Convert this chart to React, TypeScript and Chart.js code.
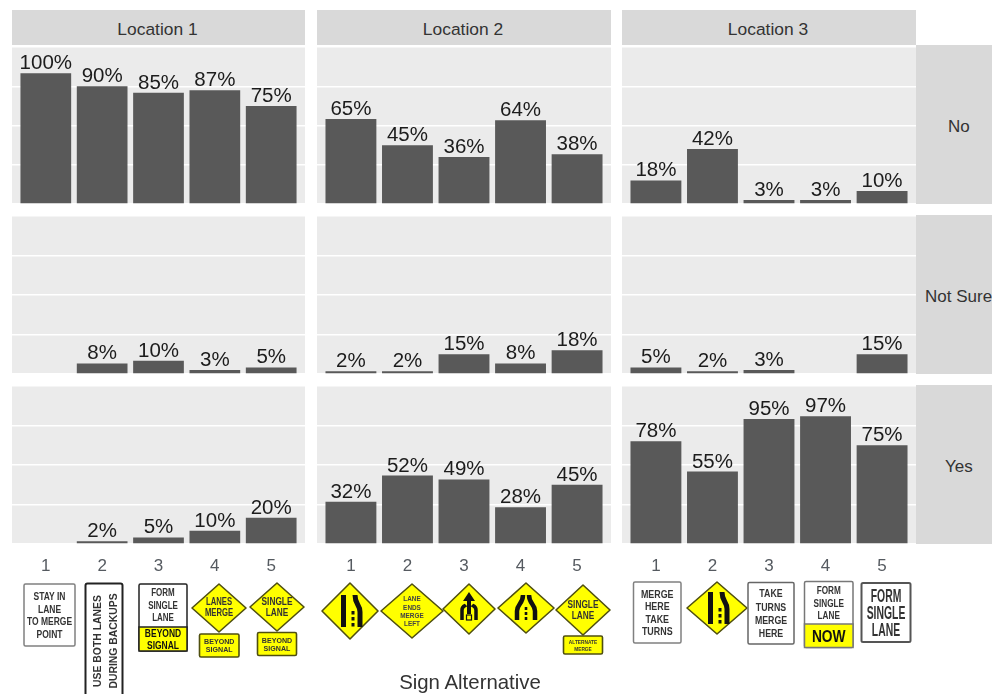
import React, { useEffect, useRef } from "react";
import { Chart, registerables } from "chart.js";

Chart.register(...registerables);

const categories = [1, 2, 3, 4, 5];
const locations = ["Location 1", "Location 2", "Location 3"];
const responses = ["No", "Not Sure", "Yes"];
const axisTitle = "Sign Alternative";

const noLoc1 = [100, 90, 85, 87, 75];
const noLoc2 = [65, 45, 36, 64, 38];
const noLoc3 = [18, 42, 3, 3, 10];
const notSureLoc1 = [null, 8, 10, 3, 5];
const notSureLoc2 = [2, 2, 15, 8, 18];
const notSureLoc3 = [5, 2, 3, null, 15];
const yesLoc1 = [null, 2, 5, 10, 20];
const yesLoc2 = [32, 52, 49, 28, 45];
const yesLoc3 = [78, 55, 95, 97, 75];

const panelValues = [
  [noLoc1, noLoc2, noLoc3],
  [notSureLoc1, notSureLoc2, notSureLoc3],
  [yesLoc1, yesLoc2, yesLoc3],
];

const colLeft = [12, 317, 622];
const colWidth = [293, 294, 294];
const rowTop = [47, 216, 386];
const rowHeight = [157, 158, 158];
const axisBand = 30;
const FONT = '"Liberation Sans", Arial, sans-serif';

const panelPlugin = {
  id: "panelBits",
  beforeDraw(chart: any) {
    const { ctx, chartArea: a } = chart;
    ctx.save();
    ctx.fillStyle = "#ebebeb";
    ctx.fillRect(a.left, a.top, a.right - a.left, a.bottom - a.top);
    ctx.restore();
  },
  afterDatasetsDraw(chart: any) {
    const { ctx } = chart;
    const meta = chart.getDatasetMeta(0);
    const vals = chart.data.datasets[0].data;
    ctx.save();
    ctx.font = `20.5px ${FONT}`;
    ctx.fillStyle = "#1c1c1c";
    ctx.textAlign = "center";
    ctx.textBaseline = "alphabetic";
    meta.data.forEach((el: any, i: number) => {
      const v = vals[i].y;
      if (v === null) return;
      ctx.fillText(`${v}%`, el.x, el.y - 4);
    });
    ctx.restore();
  },
};

function Panel({ values, left, top, width, height, showTicks }: any) {
  const ref = useRef<HTMLCanvasElement>(null);
  const fullH = height + (showTicks ? axisBand : 0);
  useEffect(() => {
    const chart = new Chart(ref.current as HTMLCanvasElement, {
      type: "bar",
      data: {
        datasets: [
          {
            data: categories.map((c, i) => ({ x: c, y: values[i] })),
            backgroundColor: "#595959",
            barPercentage: 0.9,
            categoryPercentage: 1,
          },
        ],
      },
      options: {
        animation: false,
        responsive: false,
        events: [],
        layout: { padding: 0 },
        plugins: { legend: { display: false }, tooltip: { enabled: false } },
        scales: {
          x: {
            type: "linear",
            min: 0.4,
            max: 5.6,
            offset: false,
            grid: { display: false, drawTicks: false },
            border: { display: false },
            afterBuildTicks: (s: any) => {
              s.ticks = categories.map((value) => ({ value }));
            },
            afterFit: (s: any) => {
              s.height = showTicks ? axisBand : 0;
            },
            ticks: {
              display: showTicks,
              autoSkip: false,
              maxRotation: 0,
              padding: 12,
              color: "#555a60",
              font: { family: FONT, size: 17 },
              callback: (v: any) => String(v),
            },
          },
          y: {
            min: 0,
            max: 120,
            afterFit: (s: any) => {
              s.width = 0;
            },
            grid: { color: "#ffffff", lineWidth: 1.5, drawTicks: false },
            border: { display: false },
            ticks: { display: false, stepSize: 30 },
          },
        },
      },
      plugins: [panelPlugin],
    } as any);
    return () => chart.destroy();
  }, []);
  return (
    <canvas
      ref={ref}
      width={width}
      height={fullH}
      style={{ position: "absolute", left, top, width, height: fullH, display: "block" }}
    />
  );
}

const YEL = "#ffff00";
const EDGE = "#4f4f10";

function Lines({ cx, cy, lines, size, step, k = 1.3, fill = "#333333", weight = 700 }: any) {
  const start = cy - ((lines.length - 1) * step) / 2;
  return (
    <>
      {lines.map((t: string, i: number) => (
        <text
          key={i}
          transform={`translate(${cx} ${start + i * step}) scale(1 ${k})`}
          fontSize={size}
          fontWeight={weight}
          fontFamily={FONT}
          textAnchor="middle"
          dominantBaseline="central"
          fill={fill}
        >
          {t}
        </text>
      ))}
    </>
  );
}

function RectSign({ x, y, w, h, lines, size = 9, step = 12.6, k = 1.3, edge = "#808080", sw = 1.5, split, bottomLines, bottomSize = 9, bottomStep = 11, bottomK = 1.3 }: any) {
  const topEnd = split ?? y + h;
  return (
    <g>
      <rect x={x} y={y} width={w} height={h} rx={1.5} fill="#fff" stroke={edge} strokeWidth={sw} />
      {split !== undefined && (
        <rect x={x} y={split} width={w} height={y + h - split} fill={YEL} stroke={edge} strokeWidth={sw} />
      )}
      <Lines cx={x + w / 2} cy={(y + topEnd) / 2} lines={lines} size={size} step={step} k={k} />
      {split !== undefined && (
        <Lines cx={x + w / 2} cy={(split + y + h) / 2} lines={bottomLines} size={bottomSize} step={bottomStep} k={bottomK} fill="#111" />
      )}
    </g>
  );
}

function Diamond({ cx, cy, hw, hh, children }: any) {
  return (
    <g transform={`translate(${cx} ${cy})`}>
      <polygon points={`0,${-hh} ${hw},0 0,${hh} ${-hw},0`} fill={YEL} stroke={EDGE} strokeWidth={1.6} strokeLinejoin="round" />
      {children}
    </g>
  );
}

function Plaque({ x, y, w, h, lines, size = 7.1, step = 8, k = 1.1 }: any) {
  return (
    <g>
      <rect x={x} y={y} width={w} height={h} rx={1.5} fill={YEL} stroke={EDGE} strokeWidth={1.6} />
      <Lines cx={x + w / 2} cy={y + h / 2} lines={lines} size={size} step={step} k={k} fill="#333" />
    </g>
  );
}

function MergeGlyph() {
  return (
    <g fill="#111" stroke="none">
      <rect x={-9} y={-16} width={5} height={32} />
      <path d="M5,-16 C5,-6 10,-7 10,1 V16" fill="none" stroke="#111" strokeWidth={5} />
      <rect x={1.5} y={0} width={3} height={3.5} />
      <rect x={1.5} y={6} width={3} height={3.5} />
      <rect x={1.5} y={12} width={3} height={3.5} />
    </g>
  );
}

function ArrowGlyph() {
  return (
    <g>
      <path d="M0,-17 L-6,-8 H-2 V5 H2 V-8 H6 Z" fill="#111" />
      <path d="M-7,11 V1 C-7,-3 -4,-3 -3,-4" fill="none" stroke="#111" strokeWidth={3.5} />
      <path d="M7,11 V1 C7,-3 4,-3 3,-4" fill="none" stroke="#111" strokeWidth={3.5} />
      <rect x={-2.5} y={6} width={5} height={5} fill="none" stroke="#111" strokeWidth={1.2} />
    </g>
  );
}

function SplitGlyph() {
  return (
    <g>
      <path d="M-3,-13 C-3,-4 -9,-4 -9,3 V12" fill="none" stroke="#111" strokeWidth={4.5} />
      <path d="M3,-13 C3,-4 9,-4 9,3 V12" fill="none" stroke="#111" strokeWidth={4.5} />
      <rect x={-1.3} y={-1} width={2.6} height={3} fill="#111" />
      <rect x={-1.3} y={4} width={2.6} height={3} fill="#111" />
      <rect x={-1.3} y={9} width={2.6} height={3} fill="#111" />
    </g>
  );
}

function Signs() {
  return (
    <svg
      width={992}
      height={144}
      viewBox="0 550 992 144"
      style={{ position: "absolute", left: 0, top: 550, filter: "blur(0.4px)" }}
    >
      <RectSign x={24} y={584} w={51} h={62} lines={["STAY IN", "LANE", "TO MERGE", "POINT"]} size={8.5} />
      <g>
        <rect x={85.5} y={583.5} width={37} height={120} rx={2} fill="#fff" stroke="#222" strokeWidth={2} />
        <g transform="translate(105 641) rotate(-90)">
          <Lines cx={0} cy={0} lines={["USE BOTH LANES", "DURING BACKUPS"]} size={10.4} step={16} k={1.1} />
        </g>
      </g>
      <RectSign x={139} y={584} w={48} h={67} split={627} edge="#222" lines={["FORM", "SINGLE", "LANE"]} size={8} step={12.6} bottomLines={["BEYOND", "SIGNAL"]} bottomSize={8.5} bottomStep={11.5} />
      <Diamond cx={219} cy={608} hw={27} hh={24}>
        <Lines cx={0} cy={-1} lines={["LANES", "MERGE"]} size={7.7} step={10.5} k={1.35} />
      </Diamond>
      <Plaque x={199.5} y={634} w={39.5} h={23} lines={["BEYOND", "SIGNAL"]} />
      <Diamond cx={277} cy={607} hw={27} hh={24}>
        <Lines cx={0} cy={-1} lines={["SINGLE", "LANE"]} size={8.3} step={11} k={1.4} />
      </Diamond>
      <Plaque x={257.5} y={632.5} w={39} h={23} lines={["BEYOND", "SIGNAL"]} />

      <Diamond cx={350} cy={611} hw={28} hh={28}>
        <MergeGlyph />
      </Diamond>
      <Diamond cx={412} cy={611} hw={31} hh={27}>
        <Lines cx={0} cy={0} lines={["LANE", "ENDS", "MERGE", "LEFT"]} size={6.4} step={8.4} k={1.25} fill="#444" />
      </Diamond>
      <Diamond cx={469} cy={609} hw={26} hh={25}>
        <ArrowGlyph />
      </Diamond>
      <Diamond cx={526} cy={608} hw={28} hh={25}>
        <SplitGlyph />
      </Diamond>
      <Diamond cx={583} cy={610} hw={27} hh={25}>
        <Lines cx={0} cy={-1} lines={["SINGLE", "LANE"]} size={8.3} step={11} k={1.4} />
      </Diamond>
      <Plaque x={563.5} y={636} w={39} h={18} lines={["ALTERNATE", "MERGE"]} size={4.8} step={7} k={1.1} />

      <RectSign x={633.5} y={582} w={47.5} h={61} lines={["MERGE", "HERE", "TAKE", "TURNS"]} size={8.9} />
      <Diamond cx={717} cy={608} hw={30} hh={26}>
        <MergeGlyph />
      </Diamond>
      <RectSign x={748} y={582.5} w={46} h={61.5} edge="#666" lines={["TAKE", "TURNS", "MERGE", "HERE"]} size={8.8} step={13.3} />
      <RectSign x={804.5} y={581.5} w={48.5} h={66} split={624} edge="#777" lines={["FORM", "SINGLE", "LANE"]} size={8.2} step={12.6} bottomLines={["NOW"]} bottomSize={13.8} bottomK={1.25} />
      <RectSign x={861.5} y={583} w={49} h={59} edge="#555" sw={2} lines={["FORM", "SINGLE", "LANE"]} size={10.4} step={17} k={1.8} />
    </svg>
  );
}

const stripBase: any = {
  position: "absolute",
  background: "#d9d9d9",
  color: "#333333",
  fontFamily: FONT,
  fontSize: 17.4,
  display: "flex",
  alignItems: "center",
  justifyContent: "center",
  whiteSpace: "nowrap",
  overflow: "hidden",
  boxSizing: "border-box",
  paddingTop: 4,
};

export default function App() {
  return (
    <div
      style={{
        position: "fixed",
        left: 0,
        top: 0,
        width: 992,
        height: 694,
        background: "#ffffff",
        overflow: "hidden",
      }}
    >
      {locations.map((name, c) => (
        <div
          key={name}
          style={{ ...stripBase, left: colLeft[c], top: 10, width: colWidth[c], height: 35, paddingRight: 2 }}
        >
          {name}
        </div>
      ))}
      {responses.map((name, r) => (
        <div
          key={name}
          style={{
            ...stripBase,
            fontSize: 17,
            left: 916,
            top: r === 0 ? 45 : rowTop[r] - 1,
            width: 76,
            height: r === 0 ? 159 : rowHeight[r] + 1,
            justifyContent: "flex-start",
            paddingLeft: name === "Not Sure" ? 9 : name === "No" ? 32 : 29,
          }}
        >
          {name}
        </div>
      ))}
      {panelValues.map((row, r) =>
        row.map((values, c) => (
          <Panel
            key={`${r}-${c}`}
            values={values}
            left={colLeft[c]}
            top={rowTop[r]}
            width={colWidth[c]}
            height={rowHeight[r]}
            showTicks={r === 2}
          />
        ))
      )}
      <Signs />
      <div
        style={{
          position: "absolute",
          left: 320,
          width: 300,
          top: 671,
          textAlign: "center",
          fontFamily: FONT,
          fontSize: 20.4,
          color: "#333333",
        }}
      >
        {axisTitle}
      </div>
    </div>
  );
}
